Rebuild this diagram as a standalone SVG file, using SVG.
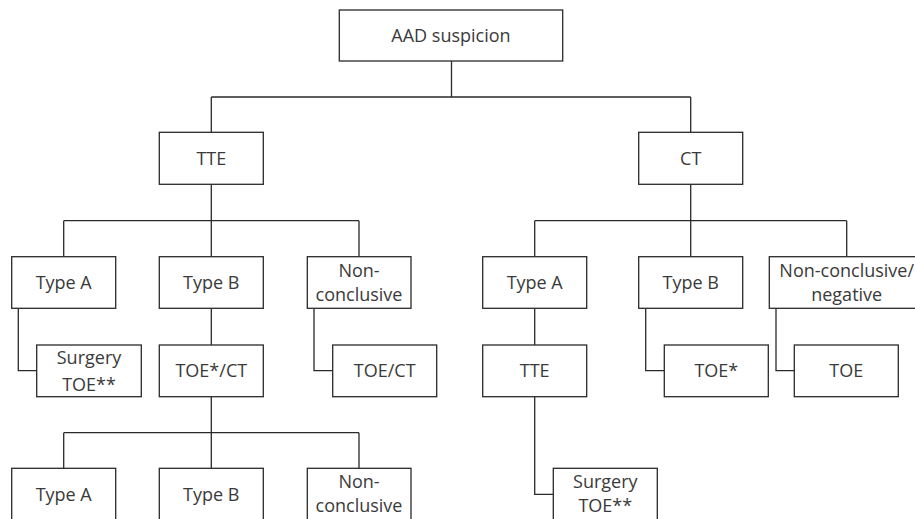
<svg xmlns="http://www.w3.org/2000/svg" width="915" height="519" viewBox="0 0 915 519">
<style>
.box{fill:#fff;stroke:#2a2a2a;stroke-width:1.3}
.t{font-family:"Open Sans","Liberation Sans",sans-serif;font-size:18px;fill:#3a3a3a;text-anchor:middle}
.c{fill:none;stroke:#2a2a2a;stroke-width:1.3}
</style>
<rect width="915" height="519" fill="#fff"/>
<g id="connectors" class="c">
<path d="M451.5,61V97M211.3,97H690.7M211.3,97V132.3M690.7,97V132.3"/>
<path d="M211.3,184.3V220.7M63.7,220.7H359M63.7,220.7V256.7M211.3,220.7V256.7M359,220.7V256.7"/>
<path d="M690.7,184.3V220.7M534.7,220.7H846.7M534.7,220.7V256.7M690.7,220.7V256.7M846.7,220.7V256.7"/>
<path d="M18.3,308.3V370.7H36.7"/>
<path d="M211.3,308.3V345"/>
<path d="M314,308.3V370.7H332.7"/>
<path d="M211.3,396.7V432.7M63.7,432.7H359M63.7,432.7V468.3M211.3,432.7V468.3M359,432.7V468.3"/>
<path d="M534.7,308.3V345"/>
<path d="M534.7,396.7V494.3H553.3"/>
<path d="M645.7,308.3V370.7H664.3"/>
<path d="M776,308.3V370.7H794.3"/>
</g>
<g id="n-aad"><rect class="box" x="339.3" y="10" width="223.4" height="51"/><text class="t" x="451" y="42">AAD suspicion</text></g>
<g id="n-tte"><rect class="box" x="159.3" y="132.3" width="104" height="52"/><text class="t" x="211.3" y="164.8">TTE</text></g>
<g id="n-ct"><rect class="box" x="638.7" y="132.3" width="104" height="52"/><text class="t" x="690.7" y="164.8">CT</text></g>
<g id="n-tte-a"><rect class="box" x="11.7" y="256.7" width="104" height="51.6"/><text class="t" x="63.7" y="289">Type A</text></g>
<g id="n-tte-b"><rect class="box" x="159.3" y="256.7" width="104" height="51.6"/><text class="t" x="211.3" y="289">Type B</text></g>
<g id="n-tte-nc"><rect class="box" x="307.3" y="256.7" width="103.7" height="51.6"/><text class="t" x="359" y="276.5">Non-</text><text class="t" x="359" y="300.8">conclusive</text></g>
<g id="n-ct-a"><rect class="box" x="482.7" y="256.7" width="104" height="51.6"/><text class="t" x="534.7" y="289">Type A</text></g>
<g id="n-ct-b"><rect class="box" x="638.7" y="256.7" width="104" height="51.6"/><text class="t" x="690.7" y="289">Type B</text></g>
<g id="n-ct-nc"><rect class="box" x="769.3" y="256.7" width="155" height="51.6"/><text class="t" x="846.7" y="276.5">Non-conclusive/</text><text class="t" x="846.7" y="300.8">negative</text></g>
<g id="n-surg1"><rect class="box" x="36.7" y="345" width="104.6" height="51.7"/><text class="t" x="89" y="364.3">Surgery</text><text class="t" x="89" y="390.5">TOE**</text></g>
<g id="n-toect"><rect class="box" x="159.3" y="345" width="104" height="51.7"/><text class="t" x="211.3" y="377.3">TOE*/CT</text></g>
<g id="n-toect2"><rect class="box" x="332.7" y="345" width="104" height="51.7"/><text class="t" x="384.7" y="377.3">TOE/CT</text></g>
<g id="n-tte2"><rect class="box" x="482.7" y="345" width="104" height="51.7"/><text class="t" x="534.7" y="377.3">TTE</text></g>
<g id="n-toe1"><rect class="box" x="664.3" y="345" width="104" height="51.7"/><text class="t" x="716.3" y="377.3">TOE*</text></g>
<g id="n-toe2"><rect class="box" x="794.3" y="345" width="104" height="51.7"/><text class="t" x="846.3" y="377.3">TOE</text></g>
<g id="n-b-a"><rect class="box" x="11.7" y="468.3" width="104" height="52"/><text class="t" x="63.7" y="500.7">Type A</text></g>
<g id="n-b-b"><rect class="box" x="159.3" y="468.3" width="104" height="52"/><text class="t" x="211.3" y="500.7">Type B</text></g>
<g id="n-b-nc"><rect class="box" x="307.3" y="468.3" width="103.7" height="52"/><text class="t" x="359" y="487.8">Non-</text><text class="t" x="359" y="512">conclusive</text></g>
<g id="n-surg2"><rect class="box" x="553.3" y="468.3" width="104" height="52"/><text class="t" x="605.3" y="487.8">Surgery</text><text class="t" x="605.3" y="512">TOE**</text></g>
</svg>
